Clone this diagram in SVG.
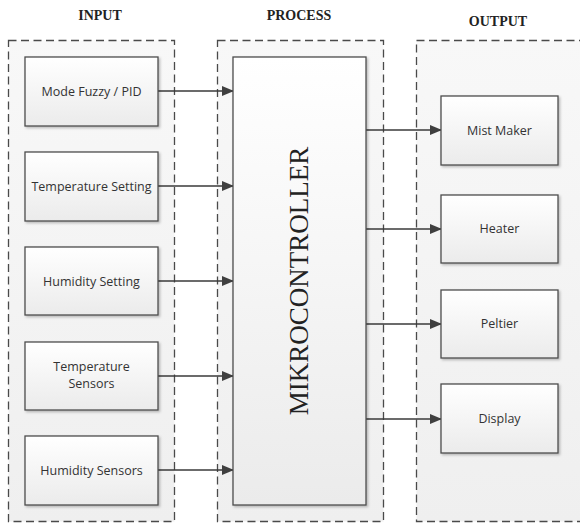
<svg xmlns="http://www.w3.org/2000/svg" width="580" height="523" viewBox="0 0 580 523">
<defs>
<linearGradient id="boxg" x1="0" y1="0" x2="0" y2="1">
<stop offset="0" stop-color="#ffffff"/>
<stop offset="1" stop-color="#ebebeb"/>
</linearGradient>
<linearGradient id="contg" x1="0" y1="0" x2="0" y2="1">
<stop offset="0" stop-color="#f8f8f8"/>
<stop offset="1" stop-color="#efefef"/>
</linearGradient>
<marker id="arr" markerWidth="12" markerHeight="10" refX="11" refY="5" orient="auto" markerUnits="userSpaceOnUse">
<path d="M0,0 L12,5 L0,10 Z" fill="#3f3f3f"/>
</marker>
<filter id="sh" x="-10%" y="-10%" width="130%" height="130%">
<feDropShadow dx="1.5" dy="1.5" stdDeviation="1.2" flood-color="#000" flood-opacity="0.25"/>
</filter>
</defs>
<style>
.cont{fill:url(#contg);stroke:#4a4a4a;stroke-width:1.3;stroke-dasharray:8,4.5}
.box{fill:url(#boxg);stroke:#4d4d4d;stroke-width:1.3;filter:url(#sh)}
.lbl{font-family:"Open Sans","Liberation Sans",sans-serif;font-size:12.5px;fill:#333;text-anchor:middle}
.ttl{font-family:"Liberation Serif","DejaVu Serif",serif;font-size:14px;font-weight:bold;fill:#222;text-anchor:middle}
.con{stroke:#3a3a3a;stroke-width:1.5;fill:none;marker-end:url(#arr)}
</style>
<rect width="580" height="523" fill="#ffffff"/>
<g id="titles">
<text class="ttl" x="100" y="20">INPUT</text>
<text class="ttl" x="299" y="20">PROCESS</text>
<text class="ttl" x="498" y="26">OUTPUT</text>
</g>
<g id="containers">
<rect class="cont" x="8.5" y="40.5" width="166" height="481"/>
<rect class="cont" x="217.5" y="40.5" width="166" height="481"/>
<rect class="cont" x="416.5" y="40.5" width="175" height="481"/>
</g>
<g id="connectors">
<line class="con" x1="158" y1="91" x2="233" y2="91"/>
<line class="con" x1="158" y1="186" x2="233" y2="186"/>
<line class="con" x1="158" y1="281" x2="233" y2="281"/>
<line class="con" x1="158" y1="376" x2="233" y2="376"/>
<line class="con" x1="158" y1="470" x2="233" y2="470"/>
<line class="con" x1="366" y1="130" x2="441" y2="130"/>
<line class="con" x1="366" y1="229" x2="441" y2="229"/>
<line class="con" x1="366" y1="324" x2="441" y2="324"/>
<line class="con" x1="366" y1="419" x2="441" y2="419"/>
</g>
<g id="mode">
<rect class="box" x="25" y="57" width="133" height="69"/>
<text class="lbl" x="91.5" y="95.5">Mode Fuzzy / PID</text>
</g>
<g id="tempset">
<rect class="box" x="25" y="152" width="133" height="69"/>
<text class="lbl" x="91.5" y="190.5">Temperature Setting</text>
</g>
<g id="humset">
<rect class="box" x="25" y="247" width="133" height="68"/>
<text class="lbl" x="91.5" y="285.5">Humidity Setting</text>
</g>
<g id="tempsens">
<rect class="box" x="25" y="342" width="133" height="68"/>
<text class="lbl" x="91.5" y="371">Temperature</text>
<text class="lbl" x="91.5" y="388">Sensors</text>
</g>
<g id="humsens">
<rect class="box" x="25" y="436" width="133" height="69"/>
<text class="lbl" x="91.5" y="474.5">Humidity Sensors</text>
</g>
<g id="micro">
<rect class="box" x="233" y="57" width="133" height="448"/>
<text transform="translate(308,281) rotate(-90)" font-family="Liberation Serif, DejaVu Serif, serif" font-size="27" fill="#222" text-anchor="middle">MIKROCONTROLLER</text>
</g>
<g id="mist">
<rect class="box" x="441" y="96" width="117" height="69"/>
<text class="lbl" x="499.5" y="134.5">Mist Maker</text>
</g>
<g id="heater">
<rect class="box" x="441" y="195" width="117" height="68"/>
<text class="lbl" x="499.5" y="233">Heater</text>
</g>
<g id="peltier">
<rect class="box" x="441" y="290" width="117" height="68"/>
<text class="lbl" x="499.5" y="328">Peltier</text>
</g>
<g id="display">
<rect class="box" x="441" y="384" width="117" height="69"/>
<text class="lbl" x="499.5" y="423">Display</text>
</g>
</svg>
